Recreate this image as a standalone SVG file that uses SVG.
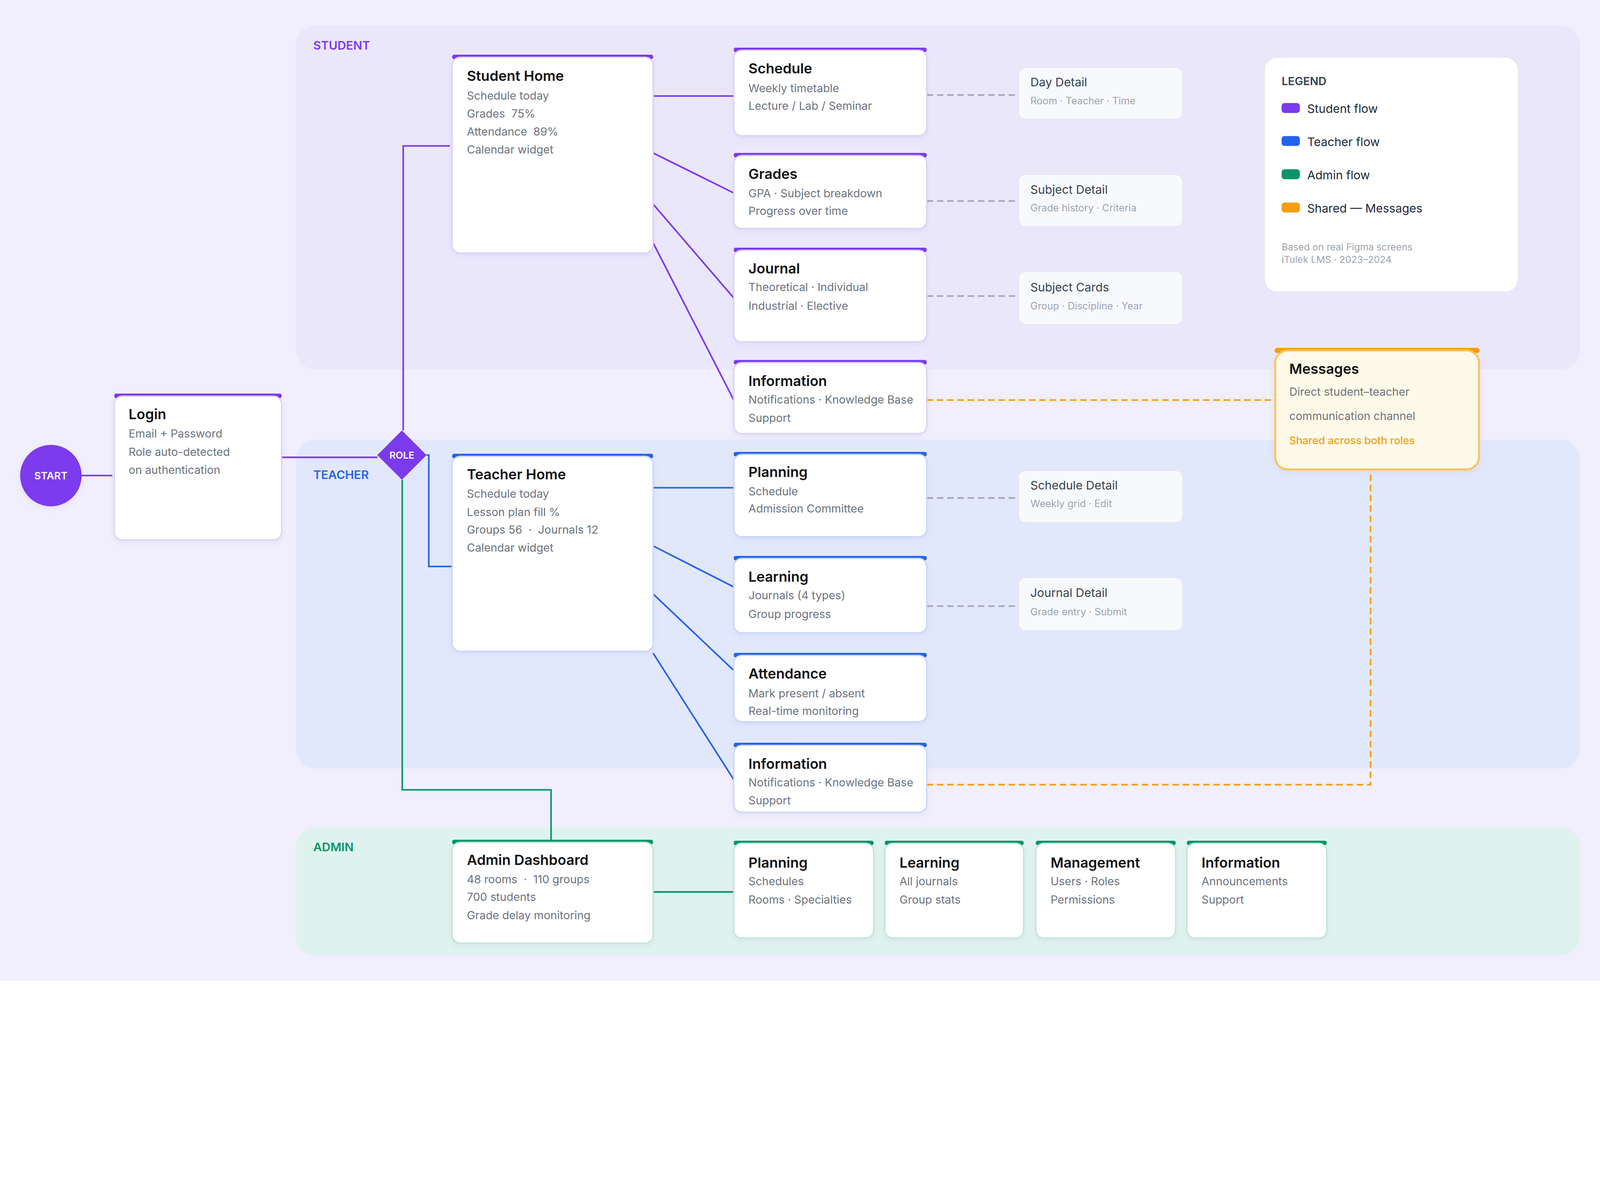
<svg xmlns="http://www.w3.org/2000/svg" width="5000" height="3064" viewBox="0 0 5000 3064" style="max-width:100%;height:auto">
<defs>
<style>
text{font-family:Inter,"Noto Sans","Liberation Sans",sans-serif;white-space:pre}
.t{font-size:44px;font-weight:600;fill:#111111}
.s{font-size:35px;fill:#6b7280}
.dt{font-size:37px;fill:#374151}
.ds{font-size:31px;fill:#9ca3af}
.lane{font-size:37px;font-weight:600}
.cs{fill:#fff;stroke:#ddd0f7;stroke-width:4}
.ct{fill:#fff;stroke:#c9d6fb;stroke-width:4}
.ca{fill:#fff;stroke:#bfe6d6;stroke-width:4}
.det{fill:#f8f9fc;stroke:#e6e7ee;stroke-width:3}
.lp{fill:none;stroke:#7c3aed;stroke-width:5}
.lb{fill:none;stroke:#2563eb;stroke-width:5}
.lg{fill:none;stroke:#059669;stroke-width:5}
.dg{fill:none;stroke:#a7a3b8;stroke-width:5;stroke-dasharray:20 12}
.do{fill:none;stroke:#f59e0b;stroke-width:5;stroke-dasharray:20 12}
.bp{fill:#7c3aed}.bb{fill:#2563eb}.bg{fill:#059669}
.lt{font-size:37px;fill:#1f2937}
</style>
<filter id="sh" x="-10%" y="-10%" width="120%" height="130%"><feDropShadow dx="0" dy="6" stdDeviation="8" flood-color="#6d5bd0" flood-opacity="0.10"/></filter>
</defs>
<rect width="5000" height="3064" fill="#f1eefd"/>
<rect x="925" y="80" width="4012" height="1074" rx="60" fill="#ebe7fb"/>
<rect x="925" y="1374" width="4012" height="1027" rx="60" fill="#e2e8fb"/>
<rect x="925" y="2586" width="4012" height="399" rx="60" fill="#dff3ee"/>
<text class="lane" x="979" y="155" fill="#7c3aed">STUDENT</text>
<text class="lane" x="979" y="1496" fill="#2563eb">TEACHER</text>
<text class="lane" x="979" y="2660" fill="#059669">ADMIN</text>

<g id="connectors">
<path class="lp" d="M255,1486H351"/>
<path class="lp" d="M880,1429H1180"/>
<path class="lp" d="M1260,1345V456H1406"/>
<path class="lb" d="M1333,1422H1340V1770H1413"/>
<path class="lg" d="M1257,1499V2468H1722V2628"/>
<path class="lp" d="M2041,300H2293M2041,478L2293,603M2041,638L2293,931M2041,759L2293,1250"/>
<path class="lb" d="M2041,1524H2293M2041,1706L2293,1834M2041,1856L2293,2095M2041,2041L2293,2436"/>
<path class="lg" d="M2041,2787H2293"/>
<path class="dg" d="M2896,297H3183M2896,628H3183M2896,925H3183M2896,1556H3183M2896,1894H3183"/>
<path class="do" d="M2896,1250H3983M2896,2452H4283V1467"/>
</g>

<g id="start"><circle cx="159" cy="1486" r="96" fill="#7c3aed" filter="url(#sh)"/><text x="159" y="1498" text-anchor="middle" font-size="32" font-weight="600" fill="#fff">START</text></g>

<g id="login"><rect x="357" y="1230" width="523" height="14" rx="6" class="bp"/><rect x="357" y="1238" width="523" height="449" rx="25" class="cs" filter="url(#sh)"/>
<text class="t" x="402" y="1310">Login</text><text class="s" x="402" y="1367">Email + Password</text><text class="s" x="402" y="1424">Role auto-detected</text><text class="s" x="402" y="1481">on authentication</text></g>

<g id="role"><path d="M1256,1345L1333,1422L1256,1499L1179,1422Z" fill="#7c3aed"/><text x="1256" y="1433" text-anchor="middle" font-size="30" font-weight="600" fill="#fff">ROLE</text></g>

<g id="student-home"><rect x="1413" y="171" width="628" height="14" rx="6" class="bp"/><rect x="1413" y="179" width="628" height="612" rx="25" class="cs" filter="url(#sh)"/>
<text class="t" x="1459" y="253">Student Home</text><text class="s" x="1459" y="311">Schedule today</text><text class="s" x="1459" y="367">Grades  75%</text><text class="s" x="1459" y="423">Attendance  89%</text><text class="s" x="1459" y="480">Calendar widget</text></g>

<g id="teacher-home"><rect x="1413" y="1418" width="628" height="14" rx="6" class="bb"/><rect x="1413" y="1426" width="628" height="609" rx="25" class="ct" filter="url(#sh)"/>
<text class="t" x="1459" y="1498">Teacher Home</text><text class="s" x="1459" y="1555">Schedule today</text><text class="s" x="1459" y="1612">Lesson plan fill %</text><text class="s" x="1459" y="1667">Groups 56  ·  Journals 12</text><text class="s" x="1459" y="1724">Calendar widget</text></g>

<g id="admin-dashboard"><rect x="1413" y="2624" width="628" height="14" rx="6" class="bg"/><rect x="1413" y="2632" width="628" height="315" rx="25" class="ca" filter="url(#sh)"/>
<text class="t" x="1459" y="2703">Admin Dashboard</text><text class="s" x="1459" y="2760">48 rooms  ·  110 groups</text><text class="s" x="1459" y="2815">700 students</text><text class="s" x="1459" y="2872">Grade delay monitoring</text></g>

<g id="s-schedule"><rect x="2293" y="149" width="603" height="14" rx="6" class="bp"/><rect x="2293" y="157" width="603" height="267" rx="25" class="cs" filter="url(#sh)"/>
<text class="t" x="2339" y="230">Schedule</text><text class="s" x="2339" y="288">Weekly timetable</text><text class="s" x="2339" y="343">Lecture / Lab / Seminar</text></g>
<g id="s-grades"><rect x="2293" y="478" width="603" height="14" rx="6" class="bp"/><rect x="2293" y="486" width="603" height="228" rx="25" class="cs" filter="url(#sh)"/>
<text class="t" x="2339" y="559">Grades</text><text class="s" x="2339" y="617">GPA · Subject breakdown</text><text class="s" x="2339" y="671">Progress over time</text></g>
<g id="s-journal"><rect x="2293" y="774" width="603" height="14" rx="6" class="bp"/><rect x="2293" y="782" width="603" height="286" rx="25" class="cs" filter="url(#sh)"/>
<text class="t" x="2339" y="855">Journal</text><text class="s" x="2339" y="910">Theoretical · Individual</text><text class="s" x="2339" y="968">Industrial · Elective</text></g>
<g id="s-information"><rect x="2293" y="1125" width="603" height="14" rx="6" class="bp"/><rect x="2293" y="1133" width="603" height="222" rx="25" class="cs" filter="url(#sh)"/>
<text class="t" x="2339" y="1206">Information</text><text class="s" x="2339" y="1261">Notifications · Knowledge Base</text><text class="s" x="2339" y="1318">Support</text></g>

<g id="t-planning"><rect x="2293" y="1412" width="603" height="14" rx="6" class="bb"/><rect x="2293" y="1420" width="603" height="257" rx="25" class="ct" filter="url(#sh)"/>
<text class="t" x="2339" y="1490">Planning</text><text class="s" x="2339" y="1548">Schedule</text><text class="s" x="2339" y="1602">Admission Committee</text></g>
<g id="t-learning"><rect x="2293" y="1737" width="603" height="14" rx="6" class="bb"/><rect x="2293" y="1745" width="603" height="232" rx="25" class="ct" filter="url(#sh)"/>
<text class="t" x="2339" y="1818">Learning</text><text class="s" x="2339" y="1873">Journals (4 types)</text><text class="s" x="2339" y="1931">Group progress</text></g>
<g id="t-attendance"><rect x="2293" y="2040" width="603" height="14" rx="6" class="bb"/><rect x="2293" y="2048" width="603" height="207" rx="25" class="ct" filter="url(#sh)"/>
<text class="t" x="2339" y="2121">Attendance</text><text class="s" x="2339" y="2179">Mark present / absent</text><text class="s" x="2339" y="2234">Real-time monitoring</text></g>
<g id="t-information"><rect x="2293" y="2321" width="603" height="14" rx="6" class="bb"/><rect x="2293" y="2329" width="603" height="209" rx="25" class="ct" filter="url(#sh)"/>
<text class="t" x="2339" y="2402">Information</text><text class="s" x="2339" y="2457">Notifications · Knowledge Base</text><text class="s" x="2339" y="2514">Support</text></g>

<g id="a-planning"><rect x="2293" y="2627" width="437" height="14" rx="6" class="bg"/><rect x="2293" y="2635" width="437" height="296" rx="25" class="ca" filter="url(#sh)"/>
<text class="t" x="2339" y="2711">Planning</text><text class="s" x="2339" y="2766">Schedules</text><text class="s" x="2339" y="2824">Rooms · Specialties</text></g>
<g id="a-learning"><rect x="2765" y="2627" width="434" height="14" rx="6" class="bg"/><rect x="2765" y="2635" width="434" height="296" rx="25" class="ca" filter="url(#sh)"/>
<text class="t" x="2811" y="2711">Learning</text><text class="s" x="2811" y="2766">All journals</text><text class="s" x="2811" y="2824">Group stats</text></g>
<g id="a-management"><rect x="3237" y="2627" width="437" height="14" rx="6" class="bg"/><rect x="3237" y="2635" width="437" height="296" rx="25" class="ca" filter="url(#sh)"/>
<text class="t" x="3283" y="2711">Management</text><text class="s" x="3283" y="2766">Users · Roles</text><text class="s" x="3283" y="2824">Permissions</text></g>
<g id="a-information"><rect x="3709" y="2627" width="437" height="14" rx="6" class="bg"/><rect x="3709" y="2635" width="437" height="296" rx="25" class="ca" filter="url(#sh)"/>
<text class="t" x="3755" y="2711">Information</text><text class="s" x="3755" y="2766">Announcements</text><text class="s" x="3755" y="2824">Support</text></g>

<g id="day-detail"><rect x="3183" y="210" width="513" height="163" rx="22" class="det"/><text class="dt" x="3220" y="270">Day Detail</text><text class="ds" x="3220" y="326">Room · Teacher · Time</text></g>
<g id="subject-detail"><rect x="3183" y="545" width="513" height="163" rx="22" class="det"/><text class="dt" x="3220" y="605">Subject Detail</text><text class="ds" x="3220" y="661">Grade history · Criteria</text></g>
<g id="subject-cards"><rect x="3183" y="848" width="513" height="166" rx="22" class="det"/><text class="dt" x="3220" y="911">Subject Cards</text><text class="ds" x="3220" y="967">Group · Discipline · Year</text></g>
<g id="schedule-detail"><rect x="3183" y="1470" width="513" height="163" rx="22" class="det"/><text class="dt" x="3220" y="1530">Schedule Detail</text><text class="ds" x="3220" y="1585">Weekly grid · Edit</text></g>
<g id="journal-detail"><rect x="3183" y="1805" width="513" height="166" rx="22" class="det"/><text class="dt" x="3220" y="1865">Journal Detail</text><text class="ds" x="3220" y="1923">Grade entry · Submit</text></g>

<g id="legend"><rect x="3951" y="179" width="794" height="733" rx="40" fill="#fff" stroke="#e7e5ee" stroke-width="3"/>
<text x="4005" y="266" font-size="35" font-weight="600" fill="#374151">LEGEND</text>
<rect x="4005" y="322" width="57" height="31" rx="9" fill="#7c3aed"/><text class="lt" x="4085" y="353">Student flow</text>
<rect x="4005" y="425" width="57" height="31" rx="9" fill="#2563eb"/><text class="lt" x="4085" y="457">Teacher flow</text>
<rect x="4005" y="529" width="57" height="31" rx="9" fill="#059669"/><text class="lt" x="4085" y="560">Admin flow</text>
<rect x="4005" y="633" width="57" height="31" rx="9" fill="#f59e0b"/><text class="lt" x="4085" y="664">Shared — Messages</text>
<text x="4005" y="782" font-size="30" fill="#9ca3af">Based on real Figma screens</text><text x="4005" y="822" font-size="30" fill="#9ca3af">iTulek LMS · 2023–2024</text></g>

<g id="messages"><rect x="3983" y="1087" width="641" height="16" rx="8" fill="#f59e0b"/><rect x="3985" y="1095" width="637" height="372" rx="40" fill="#fef9e8" stroke="#fbc25a" stroke-width="6" filter="url(#sh)"/>
<text class="t" x="4029" y="1168">Messages</text><text class="s" x="4029" y="1236">Direct student–teacher</text><text class="s" x="4029" y="1312">communication channel</text><text x="4029" y="1388" font-size="33" font-weight="500" fill="#f59e0b">Shared across both roles</text></g>
</svg>
